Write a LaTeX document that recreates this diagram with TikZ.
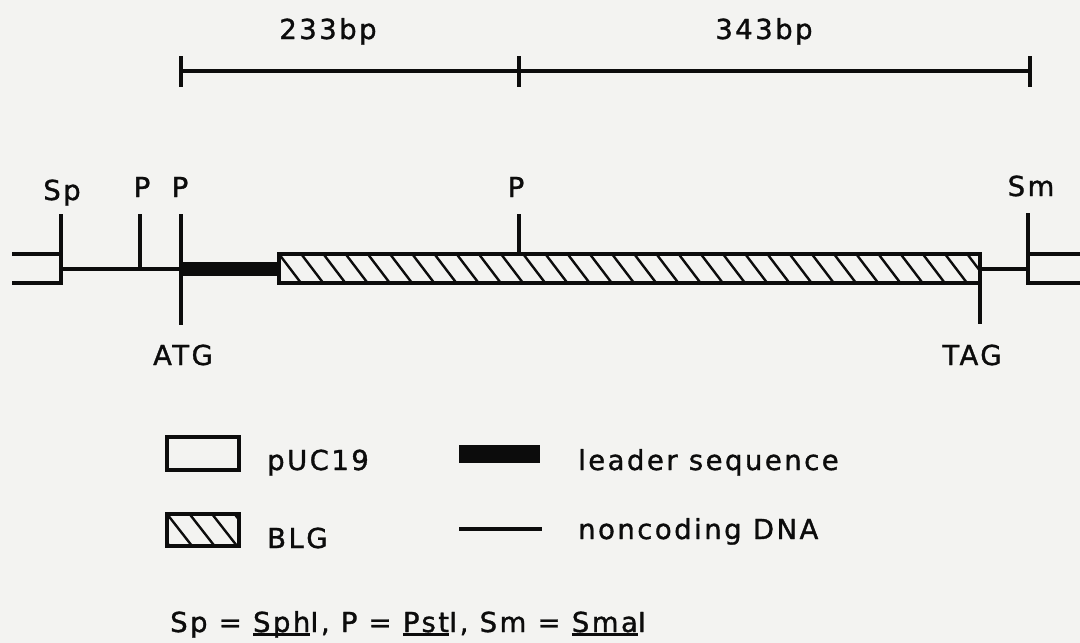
\documentclass[tikz,border=0pt]{standalone}
\usepackage{fontspec}
\setmainfont{DejaVu Sans}[LetterSpace=9,FakeBold=1.2]
\definecolor{paper}{RGB}{243,243,241}
\definecolor{ink}{RGB}{12,12,12}
% underline sitting just below the baseline
\newcommand\genusul[1]{\leavevmode\setbox0\hbox{#1}\rlap{\rule[-3.5pt]{\wd0}{2.2pt}}\box0}
\begin{document}
\begin{tikzpicture}[x=1pt,y=-1pt,
  dna/.style={draw=ink,line width=3.1pt},
  hatchline/.style={draw=ink,line width=2.4pt},
  lbl/.style={anchor=base,inner sep=0pt,text=ink,font=\fontsize{27.5}{30}\selectfont},
  lblw/.style={lbl,anchor=base west}]
% page
\fill[paper] (0,0) rectangle (1080,643);
\useasboundingbox (0,0) rectangle (1080,643);

% ---- scale bar ----
\coordinate (sA) at (181,71);
\coordinate (sB) at (519,71);
\coordinate (sC) at (1030,71);
\draw[dna] (sA) -- (sC);
\foreach \c in {sA,sB,sC} \draw[dna] (\c) ++(0,-15) -- ++(0,31);
\node[lbl] (l233) at (328,39) {233bp};
\node[lbl] (l343) at (764,39) {343bp};

% ---- construct ----
% vector ends (pUC19)
\coordinate (spTop) at (61,214);
\coordinate (spBot) at (61,283);
\draw[dna] (12,254) -| (spBot) -- (12,283);
\draw[dna] (spTop) -- (spBot);
\coordinate (smTop) at (1028,213);
\coordinate (smBot) at (1028,283);
\draw[dna] (1080,254) -| (smBot) -- (1080,283);
\draw[dna] (smTop) -- (smBot);

% noncoding DNA
\coordinate (ncL) at (61,269);
\coordinate (atg) at (181,269);
\coordinate (tag) at (980,269);
\coordinate (ncR) at (1028,269);
\draw[dna] (ncL) -- (atg);
\draw[dna] (tag) -- (ncR);

% leader sequence
\fill[ink] (181,262) rectangle (279,276);

% BLG coding region (hatched)
\begin{scope}
  \clip (279,254) rectangle (980,283);
  \foreach \i in {0,...,31}
    \draw[hatchline] ({279+22.2*\i-2},251.4) -- ++(26,34.2);
\end{scope}
\draw[dna] (279,254) rectangle (980,283);

% restriction sites
\coordinate (p1Top) at (140,214);
\coordinate (p2Top) at (181,214);
\coordinate (p3Top) at (519,214);
\draw[dna] (p1Top) -- (140,269);
\draw[dna] (p2Top) -- (181,325);
\draw[dna] (p3Top) -- (519,254);
\draw[dna] (980,254) -- (980,324);

\node[lbl] (sp) at (62,200) {Sp};
\node[lbl] (p1) at (142,197) {P};
\node[lbl] (p2) at (180,197) {P};
\node[lbl] (p3) at (516,197) {P};
\node[lbl] (sm) at (1031,196) {Sm};
\node[lbl] (latg) at (183,365) {ATG};
\node[lbl] (ltag) at (972,365) {TAG};

% ---- legend ----
\draw[dna] (167,437) rectangle (239,470);
\node[lblw] (kpuc) at (267,470) {pUC19};

\fill[ink] (459,445) rectangle (540,463);
\node[lblw] (klead) at (578,470) {leader sequence};

\begin{scope}
  \clip (167,514) rectangle (239,546);
  \foreach \i in {-1,...,3}
    \draw[hatchline] ({167+22.5*\i-2},511.4) -- ++(29,37.1);
\end{scope}
\draw[dna] (167,514) rectangle (239,546);
\node[lblw] (kblg) at (267,548) {BLG};

\draw[dna] (459,529) -- (542,529);
\node[lblw] (knc) at (578,539) {noncoding DNA};

\node[lblw] (abbr) at (170,632) {Sp = \genusul{Sph}I, P = \genusul{Pst}I, Sm = \genusul{Sma}I};
\end{tikzpicture}
\end{document}
